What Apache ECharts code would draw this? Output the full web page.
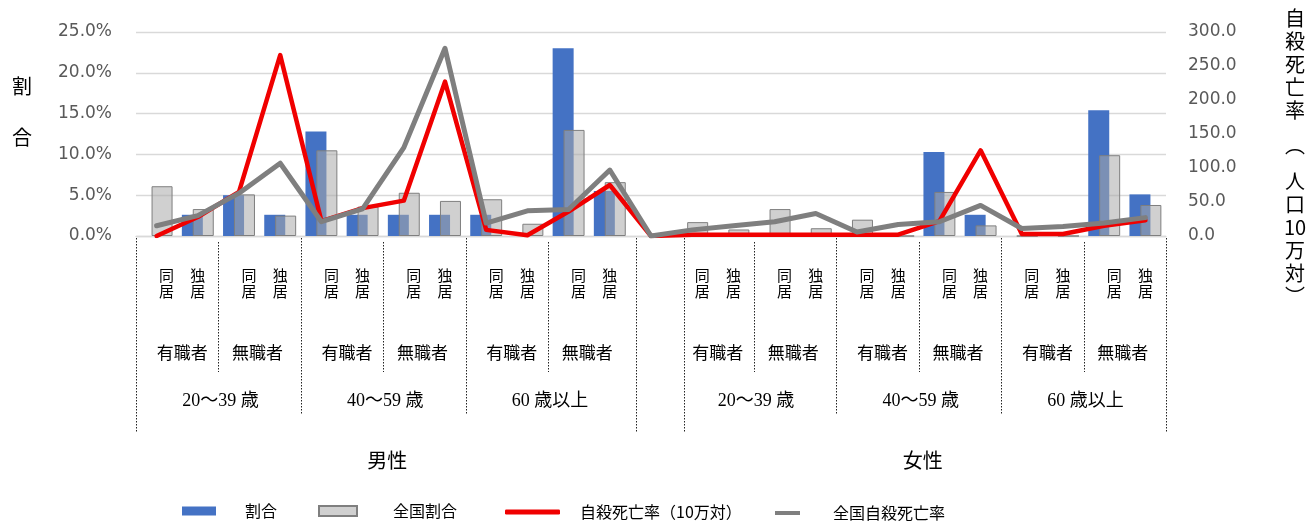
<!DOCTYPE html>
<html>
<head>
<meta charset="utf-8">
<script src="https://cdn.jsdelivr.net/npm/echarts@6/dist/echarts.min.js"></script>
<style>
  html, body { margin: 0; padding: 0; background: #fff; }
  #chart { width: 1308px; height: 521px; }
</style>
</head>
<body>
<div id="chart"></div>
<script>
// Category hierarchy (bottom table)
const sexes = ['男性', '女性'];
const ageGroups = ['20～39 歳', '40～59 歳', '60 歳以上'];
const jobStatus = ['有職者', '無職者'];
const livingStatus = ['同居', '独居'];

// Series names
const seriesNames = ['割合', '全国割合', '自殺死亡率（10万対）', '全国自殺死亡率'];

// 25 slots: 12 male, 1 spacer, 12 female
// Share of suicides (%)
const ratio = [0, 2.6, 5.0, 2.6, 12.8, 2.6, 2.6, 2.6, 2.6, 0, 23.0, 5.5,
  null,
  0, 0, 0, 0, 0, 0, 10.3, 2.6, 0, 0, 15.4, 5.1];
// National share of suicides (%)
const nationalRatio = [6.1, 3.3, 5.1, 2.5, 10.5, 3.6, 5.3, 4.3, 4.5, 1.5, 13.0, 6.6,
  null,
  1.7, 0.8, 3.3, 0.95, 2.0, 0, 5.4, 1.3, 0, 0, 9.9, 3.8];
// Suicide death rate (per 100,000)
const suicideRate = [0, 28, 65, 266, 22, 41, 52, 227, 9, 1, 36, 75,
  0,
  2, 2, 2, 2, 2, 2, 22, 126, 3, 3, 15, 23];
// National suicide death rate (per 100,000)
const nationalSuicideRate = [15, 30, 63, 107, 21, 40, 130, 276, 19, 37, 39, 97,
  0,
  9, 15, 21, 33, 6, 17, 21, 45, 11, 14, 19, 27];

// Axis ranges: [min, max, interval]
const pctAxis = [0, 25, 5];
const rateAxis = [0, 300, 50];

// Axis titles
const leftTitle = ['割', '合'];
const rightTitle = ['自', '殺', '死', '亡', '率', '︵', '人', '口', '10', '万', '対', '︶'];

const JP = '"Noto Sans CJK JP", "Noto Sans", sans-serif';
const NUM = '"DejaVu Sans", sans-serif';
const SERIF = '"Liberation Serif", "Noto Sans CJK JP", serif';

// Build category keys: sex|age|job|living, with one spacer between the sexes
const categoryKeys = [];
sexes.forEach((s, si) => {
  ageGroups.forEach(a => jobStatus.forEach(j => livingStatus.forEach(l => {
    categoryKeys.push([s, a, j, l].join('|'));
  })));
  if (si < sexes.length - 1) categoryKeys.push('gap');
});

const chart = echarts.init(document.getElementById('chart'));

const legendText = { fontSize: 16, color: '#000', fontFamily: JP };

chart.setOption({
  animation: false,
  grid: { left: 136, top: 32, width: 1030, height: 204 },
  xAxis: {
    type: 'category',
    data: categoryKeys,
    axisLine: { lineStyle: { color: '#d9d9d9', width: 1.3 } },
    axisTick: { show: false },
    axisLabel: {
      interval: 0,
      margin: 31,
      fontSize: 15,
      lineHeight: 16,
      fontFamily: JP,
      color: '#000',
      formatter: (val) => {
        const parts = val.split('|');
        if (parts.length < 4) return '';
        const tag = parts[3] === livingStatus[0] ? 'a' : 'b';
        return parts[3].split('').map(c => `{${tag}|${c}}`).join('\n');
      },
      rich: {
        a: { padding: [0, 0, 0, 20], fontSize: 15, lineHeight: 16, fontFamily: JP, color: '#000' },
        b: { fontSize: 15, lineHeight: 16, fontFamily: JP, color: '#000' }
      }
    }
  },
  yAxis: [
    {
      type: 'value', min: pctAxis[0], max: pctAxis[1], interval: pctAxis[2],
      axisLine: { show: false }, axisTick: { show: false },
      axisLabel: { formatter: v => v.toFixed(1) + '%', color: '#595959', fontSize: 17, fontFamily: NUM, margin: 24 },
      splitLine: { lineStyle: { color: '#d9d9d9', width: 1.3 } }
    },
    {
      type: 'value', position: 'right', min: rateAxis[0], max: rateAxis[1], interval: rateAxis[2],
      axisLine: { show: false }, axisTick: { show: false },
      axisLabel: { formatter: v => v.toFixed(1), color: '#595959', fontSize: 17, fontFamily: NUM, margin: 22 },
      splitLine: { show: false }
    }
  ],
  legend: [
    { data: [seriesNames[0]], left: 182, top: 503, padding: 0, icon: 'rect', itemWidth: 34, itemHeight: 9,
      textStyle: Object.assign({ padding: [2, 0, 0, 24] }, legendText) },
    { data: [seriesNames[1]], left: 318, top: 503, padding: 0, icon: 'rect', itemWidth: 38, itemHeight: 10,
      textStyle: Object.assign({ padding: [2, 0, 0, 31] }, legendText) },
    { data: [seriesNames[2]], left: 505, top: 504, padding: 0, icon: 'roundRect', itemWidth: 55, itemHeight: 5,
      textStyle: Object.assign({ padding: [0, 0, 0, 15] }, legendText) },
    { data: [seriesNames[3]], left: 775, top: 505, padding: 0, icon: 'rect', itemWidth: 25, itemHeight: 4,
      textStyle: Object.assign({ padding: [8, 0, 0, 28] }, legendText) }
  ],
  series: [
    {
      name: seriesNames[0], type: 'bar', data: ratio,
      barWidth: 21, barGap: '-48%',
      itemStyle: { color: '#4472c4' }
    },
    {
      name: seriesNames[1], type: 'bar', data: nationalRatio,
      barWidth: 21,
      itemStyle: { color: 'rgba(170,170,170,0.55)', borderColor: '#7f7f7f', borderWidth: 1 }
    },
    {
      name: seriesNames[2], type: 'line', yAxisIndex: 1, data: suicideRate,
      symbol: 'none', z: 3,
      itemStyle: { color: '#f00000' },
      lineStyle: { color: '#f00000', width: 4.5, cap: 'round', join: 'round' }
    },
    {
      name: seriesNames[3], type: 'line', yAxisIndex: 1, data: nationalSuicideRate,
      symbol: 'none', z: 4,
      itemStyle: { color: '#7f7f7f' },
      lineStyle: { color: '#7f7f7f', width: 5, cap: 'round', join: 'round' }
    }
  ]
});

// Table under the axis: job / age / sex rows and dotted separators, aligned to the category axis
const px = i => chart.convertToPixel({ xAxisIndex: 0 }, i);
const w = px(1) - px(0);
const gfx = [];
const txt = (s, x, y, size, family) => ({
  type: 'text', x: x, y: y, silent: true,
  style: { text: s, fill: '#000', fontSize: size, fontFamily: family || JP, align: 'center', verticalAlign: 'middle' }
});
const vline = (x, y1, y2) => ({
  type: 'line', silent: true,
  shape: { x1: Math.round(x) + 0.5, y1: y1, x2: Math.round(x) + 0.5, y2: y2 },
  style: { stroke: '#222', lineWidth: 1, lineDash: [1.5, 1.5] }
});

const blockSize = ageGroups.length * jobStatus.length * livingStatus.length;
sexes.forEach((s, si) => {
  const s0 = si * (blockSize + 1);
  const leftEdge = px(s0) - w / 2 + (si === 0 ? 0 : 12);
  const rightEdge = px(s0 + blockSize - 1) + w / 2 + (si === 0 ? 6 : 0);
  gfx.push(vline(leftEdge, 238, 432));
  gfx.push(vline(rightEdge, 238, 432));
  ageGroups.forEach((a, ai) => {
    const a0 = s0 + ai * 4;
    if (ai > 0) gfx.push(vline(px(a0) - w / 2, 238, 415));
    gfx.push(vline(px(a0 + 2) - w / 2, 242, 372));
    jobStatus.forEach((j, ji) => {
      const c = (px(a0 + ji * 2) + px(a0 + ji * 2 + 1)) / 2 + (ji === 0 ? 5 : -2);
      gfx.push(txt(j, c, 353, 17));
    });
    gfx.push(txt(a, (px(a0) + px(a0 + 3)) / 2 + 2, 401, 18, SERIF));
  });
  gfx.push(txt(s, (px(s0) + px(s0 + blockSize - 1)) / 2 + 4, 460, 20));
});

// Left axis title
gfx.push(txt(leftTitle[0], 22, 86, 20));
gfx.push(txt(leftTitle[1], 22, 137, 20));

// Right axis title, set vertically
let ty = 18;
rightTitle.forEach((ch, k) => {
  gfx.push(txt(ch, 1295, ty, 20));
  ty += (ch === '︵') ? 36 : 23;
  if (rightTitle[k + 1] === '︵') ty += 12;
});

chart.setOption({ graphic: gfx });
</script>
</body>
</html>
